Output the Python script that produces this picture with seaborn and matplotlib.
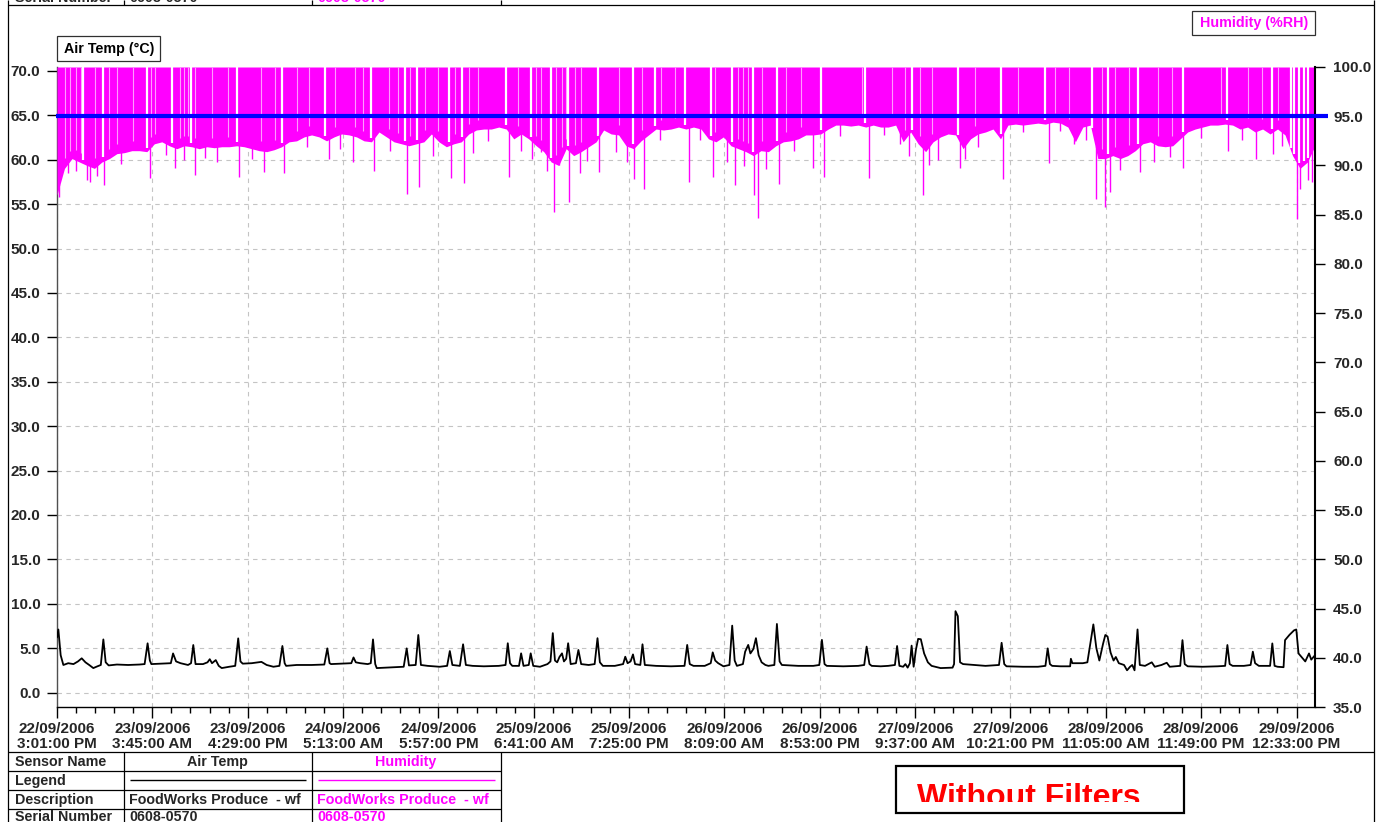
import datetime as dt
import numpy as np
import matplotlib
matplotlib.use("Agg")
import matplotlib.pyplot as plt
from matplotlib.patches import Rectangle
from matplotlib.ticker import MultipleLocator, FormatStrFormatter
import seaborn as sns

# ------------------------------------------------------------------ data
START = "22/09/2006 3:01:00 PM"
SPAN_HOURS = 168.0

tick_labels = [
    "22/09/2006\n3:01:00 PM", "23/09/2006\n3:45:00 AM", "23/09/2006\n4:29:00 PM",
    "24/09/2006\n5:13:00 AM", "24/09/2006\n5:57:00 PM", "25/09/2006\n6:41:00 AM",
    "25/09/2006\n7:25:00 PM", "26/09/2006\n8:09:00 AM", "26/09/2006\n8:53:00 PM",
    "27/09/2006\n9:37:00 AM", "27/09/2006\n10:21:00 PM", "28/09/2006\n11:05:00 AM",
    "28/09/2006\n11:49:00 PM", "29/09/2006\n12:33:00 PM",
]

# Air temperature (deg C), hours since start
temp_hours = [
    0.0, 0.18, 0.49, 0.85, 1.5, 2.2, 2.8, 3.3, 3.8, 4.3,
    4.85, 5.4, 5.85, 6.19, 6.5, 6.9, 8.0, 9.5, 11.0, 11.7,
    12.1, 12.4, 12.6, 14.0, 15.2, 15.5, 15.9, 16.5, 17.5, 17.9,
    18.2, 18.5, 19.5, 20.1, 20.4, 20.7, 21.2, 21.6, 22.0, 23.0,
    23.8, 24.2, 24.5, 24.8, 26.0, 27.3, 28.0, 28.9, 29.7, 30.1,
    30.4, 30.6, 32.0, 34.0, 35.7, 36.1, 36.4, 36.6, 38.0, 39.3,
    39.6, 39.9, 40.5, 41.5, 41.9, 42.2, 42.5, 42.7, 44.0, 45.5,
    46.3, 46.7, 47.0, 47.9, 48.25, 48.6, 49.5, 51.1, 52.1, 52.46,
    52.8, 53.8, 54.23, 54.6,
    55.5, 57.0, 59.0, 59.9, 60.2, 60.5, 60.8, 61.7, 61.98, 62.3,
    63.0, 63.26, 63.6, 64.5, 65.5, 65.9, 66.21, 66.5, 66.8, 67.1,
    67.44, 67.7, 68.0, 68.26, 68.6, 69.3, 69.63, 70.0, 71.0, 71.8,
    72.18, 72.5, 72.9, 74.5, 75.6, 75.89, 76.2, 76.6, 76.92, 77.2,
    77.9, 78.19, 78.5, 80.0, 82.0, 83.8, 84.16, 84.5, 85.0, 86.5,
    87.3, 87.57, 87.9, 88.3, 89.0, 89.8, 90.17, 90.5, 90.8, 91.6,
    91.9, 92.31, 92.6, 93.0, 93.34, 93.7, 94.1, 94.6, 95.0, 95.8,
    96.14, 96.5, 96.8, 99.0, 101.0, 101.8, 102.15, 102.5, 102.8, 105.0,
    107.0, 107.8, 108.12, 108.5, 108.8, 110.0, 111.0, 111.9, 112.19, 112.5,
    113.0, 113.3, 113.6, 113.9, 114.13, 114.4, 114.7, 115.0, 115.36, 115.8,
    116.3, 116.8, 118.0, 119.6, 119.8, 119.99, 120.3, 120.6, 121.0, 122.5,
    124.0, 125.8, 126.15, 126.5, 126.8,
    129.0, 131.0, 132.0, 132.3, 132.6, 132.9, 134.0, 135.3, 135.4, 135.6,
    137.0, 137.6, 138.0, 138.4, 138.8, 139.2, 139.7, 140.0, 140.3, 140.7,
    141.1, 141.4, 141.8, 142.5, 142.9, 143.3, 143.6, 143.9, 144.3, 144.6,
    145.3, 146.2, 146.6, 147.5, 148.2, 148.6, 150.0, 150.3, 150.6, 151.0,
    153.0, 155.0, 156.0, 156.3, 156.6, 157.0, 158.5, 159.4, 159.7, 160.0,
    160.5, 162.0, 162.3, 162.6, 163.0, 163.8, 164.0, 164.6, 165.2, 165.5,
    165.8, 166.3, 166.7, 167.2, 167.5, 168.0,
]
temp_values = [
    6.2, 7.1, 4.2, 3.1, 3.3, 3.2, 3.5, 3.85, 3.4, 3.1,
    2.75, 2.95, 3.1, 5.98, 3.4, 3.05, 3.15, 3.1, 3.15, 3.2,
    5.54, 3.6, 3.2, 3.25, 3.3, 4.4, 3.5, 3.3, 3.1, 3.3,
    5.35, 3.2, 3.2, 3.4, 3.75, 3.3, 3.65, 3.0, 2.75, 2.9,
    3.0, 6.1, 3.5, 3.25, 3.3, 3.45, 3.1, 2.9, 3.0, 5.24,
    3.3, 3.0, 3.1, 3.1, 3.15, 4.97, 3.3, 3.2, 3.25, 3.3,
    3.95, 3.4, 3.3, 3.2, 3.3, 5.98, 3.2, 2.75, 2.8, 2.85,
    2.9, 4.97, 3.05, 3.1, 6.48, 3.1, 3.0, 2.9, 3.0, 4.67,
    3.1, 3.0, 5.43, 3.1,
    3.0, 2.95, 3.0, 3.1, 5.55, 3.3, 3.0, 3.0, 4.41, 3.0,
    3.1, 4.41, 3.0, 2.9, 3.2, 3.5, 6.69, 3.6, 3.4, 4.0,
    4.41, 3.5, 3.8, 5.55, 3.2, 3.3, 4.79, 3.2, 3.1, 3.2,
    6.12, 3.4, 3.0, 3.0, 3.2, 4.03, 3.3, 3.5, 4.29, 3.2,
    3.1, 5.43, 3.1, 3.0, 2.95, 3.0, 5.36, 3.2, 3.0, 3.0,
    3.3, 4.52, 3.6, 3.3, 2.95, 3.1, 7.53, 3.6, 3.0, 3.2,
    4.6, 5.36, 4.4, 4.9, 6.12, 4.2, 3.4, 3.1, 3.0, 3.1,
    7.72, 3.5, 3.1, 3.0, 3.0, 3.1, 5.93, 3.2, 3.0, 2.95,
    3.0, 3.1, 5.17, 3.2, 3.0, 2.95, 3.0, 3.1, 5.24, 3.0,
    2.9, 3.2, 2.8, 3.3, 5.28, 2.9, 4.8, 6.04, 6.0, 4.4,
    3.4, 3.0, 2.75, 2.8, 3.2, 9.16, 8.6, 3.4, 3.2, 3.1,
    3.0, 3.1, 5.6, 3.2, 2.95,
    2.9, 2.9, 3.0, 4.97, 3.2, 3.0, 2.95, 2.95, 3.8, 3.3,
    3.3, 3.4, 5.5, 7.67, 5.0, 3.6, 5.5, 6.48, 6.3, 4.5,
    3.6, 4.0, 3.3, 3.1, 2.5, 2.9, 3.1, 2.5, 7.1, 3.1,
    3.0, 3.4, 2.9, 3.1, 3.35, 2.9, 3.0, 5.9, 3.2, 2.95,
    2.9, 2.95, 3.0, 5.35, 3.2, 3.0, 3.0, 3.1, 4.6, 3.3,
    3.0, 3.0, 5.53, 3.0, 2.9, 2.85, 5.9, 6.5, 7.0, 7.1,
    4.4, 3.9, 3.5, 4.4, 3.7, 4.2,
]

# Humidity (%RH): hourly lower edge of the saturated band
rh_floor = [
    87.0, 89.7, 90.7, 90.35, 90.0, 89.7, 90.35, 90.7, 91.2, 91.3, 91.5, 91.5,
    91.4, 92.2, 92.4, 92.0, 91.7, 92.0, 91.9, 91.7, 91.9, 91.8, 91.9, 91.9,
    92.0, 91.9, 91.7, 91.5, 91.4, 91.6, 91.9, 92.4, 92.5, 92.9, 93.1, 92.9,
    92.5, 92.9, 93.2, 93.1, 92.9, 92.5, 92.4, 93.4, 92.9, 92.4, 92.2, 92.0,
    92.2, 92.4, 93.2, 92.4, 91.9, 92.2, 92.4, 93.2, 93.6, 93.7, 93.7, 93.9,
    93.7, 92.7, 93.2, 92.7, 92.0, 91.4, 90.35, 90.0, 91.7, 91.0, 91.4, 91.9,
    92.4, 93.6, 93.2, 93.1, 92.0, 91.7, 92.5, 93.1, 93.7, 93.6, 93.7, 93.9,
    93.7, 93.9, 93.7, 92.7, 92.4, 92.9, 92.0, 91.7, 91.4, 91.0, 91.5, 91.4,
    92.0, 92.4, 92.5, 92.7, 93.1, 93.1, 93.2, 93.7, 94.1, 94.1, 94.0, 94.1,
    93.9, 94.1, 93.9, 93.9, 94.1, 92.4, 93.4, 92.2, 91.4, 92.4, 92.9, 93.2,
    93.1, 91.7, 92.7, 93.2, 93.4, 93.7, 92.7, 94.1, 94.2, 94.1, 94.2, 94.3,
    94.2, 94.4, 94.3, 93.9, 92.4, 93.9, 94.1, 90.7, 90.7, 91.0, 90.7, 91.0,
    91.5, 92.2, 92.4, 92.0, 91.9, 92.0, 92.7, 93.4, 93.7, 93.9, 94.1, 94.1,
    94.2, 94.1, 93.7, 93.9, 93.4, 93.7, 93.2, 93.7, 93.1, 91.0, 89.7, 90.35,
    92.0,
]

# Short humidity drops below the band
dip_hours = [
    0.3, 1.5, 2.6, 4.0, 4.4, 5.3, 6.3, 8.5, 12.4, 14.5,
    15.8, 17.0, 18.4, 19.8, 21.4, 24.3, 26.0, 27.6, 30.3, 33.4,
    36.3, 37.8, 39.5, 42.4, 44.5, 46.8, 48.4, 50.2, 52.6, 54.4,
    55.5, 57.5, 60.3, 62.0, 63.5, 64.7, 65.5, 66.4, 67.1, 68.4,
    69.9, 70.8, 72.4, 74.6, 76.1, 77.0, 78.4, 80.5, 84.4, 85.9,
    87.6, 89.5, 90.5, 91.8, 93.1, 93.6, 94.7, 96.4, 98.4, 101.0,
    102.4, 104.6, 108.5, 110.5, 112.6, 113.8, 115.6, 116.4, 117.6, 120.6,
    121.3, 123.0, 126.4, 129.0, 132.5, 134.0, 135.8, 137.4, 138.7, 140.0,
    140.6, 142.0, 144.6, 146.5, 148.7, 150.4, 152.8, 156.4, 158.2, 160.1,
    162.4, 163.6, 165.6, 166.0, 167.0, 167.6,
]
dip_values = [
    86.8, 89.2, 89.4, 88.5, 88.3, 88.9, 88.0, 90.1, 88.7, 91.1,
    89.7, 90.6, 89.0, 90.8, 90.35, 88.8, 90.7, 89.3, 89.2, 91.9,
    90.7, 91.7, 90.35, 89.4, 91.5, 87.1, 87.8, 91.0, 88.7, 88.2,
    91.3, 92.5, 88.8, 91.5, 90.7, 91.4, 89.4, 85.3, 90.0, 86.3,
    89.2, 90.5, 89.3, 91.4, 90.35, 88.6, 87.6, 92.6, 88.3, 92.6,
    88.8, 90.35, 88.0, 89.9, 87.0, 84.7, 89.6, 88.1, 91.5, 89.7,
    88.8, 93.0, 88.7, 93.1, 92.2, 91.0, 87.0, 90.0, 90.6, 89.7,
    90.7, 91.9, 88.6, 93.4, 90.2, 93.5, 92.2, 92.6, 86.6, 85.8,
    87.3, 89.5, 89.3, 90.4, 90.9, 89.7, 92.8, 91.5, 92.6, 90.7,
    91.2, 92.0, 84.6, 87.6, 88.5, 88.3,
]

# Times when humidity fell off saturation (defrost cycles)
unsaturated_hours = [
    3.5, 6.2, 12.0, 15.4, 17.9, 24.0, 30.0, 35.8, 41.9, 46.5,
    48.1, 52.4, 54.1, 60.0, 63.3, 66.0, 68.2, 72.2, 76.9, 79.8,
    83.9, 87.3, 90.2, 93.0, 96.2, 102.0, 107.9, 114.2, 120.3, 126.1,
    131.9, 138.2, 140.3, 144.4, 150.4, 156.3, 162.2, 164.8, 165.2, 165.9,
    166.5, 167.0,
]
# Single readings just under saturation
brief_unsaturated_hours = [
    1.07, 1.74, 2.5, 3.2, 5.1, 6.9, 8.0, 10.2, 12.6, 13.1,
    16.4, 16.9, 17.5, 18.4, 20.7, 22.9, 27.3, 29.1, 32.0, 33.6,
    37.1, 39.8, 40.9, 44.3, 45.6, 47.1, 49.2, 50.9, 53.2, 55.0,
    56.2, 61.6, 64.0, 64.7, 66.7, 67.5, 68.0, 69.2, 70.0, 75.0,
    78.1, 80.7, 82.5, 87.9, 91.0, 91.6, 92.3, 94.1, 97.4, 99.4,
    107.5, 111.5, 113.2, 115.2, 116.8, 122.6, 128.4, 133.3, 135.1, 139.5,
    141.3, 143.1, 147.1, 148.9, 155.5, 159.1, 160.9, 163.1,
]

RH_ALARM = 95.0
TEMP_LIM = (-1.633, 70.45)
RH_LIM = (35.0, 100.0)

# ------------------------------------------------------------------ style
MAGENTA = "#FF00FF"
LIGHT_MAGENTA = "#FF9CFF"
BLUE = "#0000FF"
GRID = "#c4c4c4"
FS = 11
FS_TABLE = 10.3

sns.set_style("white")
plt.rcParams["font.family"] = ["Liberation Sans", "DejaVu Sans"]
plt.rcParams["font.weight"] = "bold"

W, H, DPI = 1382, 822, 100
fig = plt.figure(figsize=(W / DPI, H / DPI), dpi=DPI, facecolor="white")

PL, PR, PT, PB = 57, 1315, 67, 707
ax = fig.add_axes([PL / W, 1 - PB / H, (PR - PL) / W, (PB - PT) / H])
ax2 = ax.twinx()

# ------------------------------------------------------------------ series
sns.lineplot(x=temp_hours, y=temp_values, ax=ax, color="black",
             linewidth=1.3, estimator=None, sort=False, legend=False, zorder=3)

rh_hours = np.arange(len(rh_floor))
ax2.fill_between(rh_hours, rh_floor, RH_LIM[1], color=MAGENTA, linewidth=0, zorder=2)
brief_floor = np.interp(brief_unsaturated_hours, rh_hours, rh_floor)
ax2.vlines(brief_unsaturated_hours, brief_floor + 1.0, RH_LIM[1], color=LIGHT_MAGENTA,
           linewidth=0.8, zorder=3)
gap_floor = np.interp(unsaturated_hours, rh_hours, rh_floor)
ax2.vlines(unsaturated_hours, gap_floor + 0.4, RH_LIM[1], color="white",
           linewidth=1.6, zorder=3)
dip_top = np.interp(dip_hours, rh_hours, rh_floor) + 0.3
ax2.vlines(dip_hours, dip_values, dip_top, color=MAGENTA, linewidth=1.0, zorder=4)
ax2.hlines(RH_ALARM, -0.15, SPAN_HOURS + 1.7, color=BLUE, linewidth=3.0,
           zorder=6, clip_on=False)

# ------------------------------------------------------------------ axes
t0 = dt.datetime.strptime(START, "%d/%m/%Y %I:%M:%S %p")
tick_hours = [
    (dt.datetime.strptime(s.replace("\n", " "), "%d/%m/%Y %I:%M:%S %p") - t0).total_seconds() / 3600
    for s in tick_labels
]
ax.set_xlim(0, SPAN_HOURS)
ax.set_ylim(*TEMP_LIM)
ax2.set_ylim(*RH_LIM)
ax.set_xlabel("")
ax.set_ylabel("")

ax.set_xticks(tick_hours)
ax.set_xticklabels(tick_labels)
ax.xaxis.set_minor_locator(MultipleLocator((tick_hours[1] - tick_hours[0]) / 5))
ax.set_yticks(np.arange(0, 71, 5))
ax.yaxis.set_major_formatter(FormatStrFormatter("%.1f"))
ax2.set_yticks(np.arange(35, 101, 5))
ax2.yaxis.set_major_formatter(FormatStrFormatter("%.1f"))

ax.tick_params(axis="x", which="major", bottom=True, length=8, width=1,
               color="black", pad=3, labelsize=FS)
ax.tick_params(axis="x", which="minor", bottom=True, length=4, width=1, color="black")
ax.tick_params(axis="y", which="major", left=True, length=7, width=1,
               color="black", pad=5, labelsize=FS)
ax2.tick_params(axis="y", which="major", right=True, length=7, width=1,
                color="black", pad=6, labelsize=FS)
for lbl in ax.get_xticklabels():
    lbl.set_linespacing(1.1)

ax.grid(True, which="major", color=GRID, linestyle=(0, (4, 4)), linewidth=0.8)
ax2.grid(False)
ax.set_axisbelow(True)

for a in (ax, ax2):
    a.spines["top"].set_visible(False)
ax.spines["right"].set_visible(False)
ax2.spines["left"].set_visible(False)
ax2.spines["bottom"].set_visible(False)
ax.spines["left"].set_color("#505050")
ax.spines["left"].set_linewidth(1.0)
ax.spines["bottom"].set_color("black")
ax.spines["bottom"].set_linewidth(1.0)
ax2.spines["right"].set_color("black")
ax2.spines["right"].set_linewidth(1.5)

# ------------------------------------------------------------------ page furniture (pixel coordinates)
ov = fig.add_axes([0, 0, 1, 1])
ov.set_xlim(0, W)
ov.set_ylim(H, 0)
ov.axis("off")
ov.patch.set_alpha(0)


def seg(x0, y0, x1, y1, color="black", lw=0.9):
    ov.plot([x0, x1], [y0, y1], color=color, linewidth=lw, solid_capstyle="butt")


# outer frame
seg(8.5, 0, 8.5, H)
seg(1374.5, 0, 1374.5, H)
seg(8.5, 5, 1374.5, 5)
seg(8.5, 752, 1374.5, 752)

# tail of the table above
for x in (124.5, 312.5, 501.5):
    seg(x, 0, x, 5)
ov.text(15, 2.5, "Serial Number", fontsize=FS_TABLE, va="baseline", ha="left")
ov.text(129, 2.5, "0608-0570", fontsize=FS_TABLE, va="baseline", ha="left")
ov.text(317, 2.5, "0608-0570", fontsize=FS_TABLE, va="baseline", ha="left", color=MAGENTA)

# series name boxes
ov.add_patch(Rectangle((57.5, 36.5), 103, 24.5, fill=False, edgecolor="#303030", linewidth=0.9))
ov.text(109, 48.5, "Air Temp (°C)", fontsize=FS_TABLE, ha="center", va="center", color="black")
ov.add_patch(Rectangle((1192.5, 11.5), 123, 23.5, fill=False, edgecolor="#303030", linewidth=0.9))
ov.text(1254, 23, "Humidity (%RH)", fontsize=FS_TABLE, ha="center", va="center", color=MAGENTA)

# sensor table
rows_y = [752, 771, 790, 808.5]
for y in rows_y[1:]:
    seg(8.5, y, 501.5, y)
for x in (124.5, 312.5, 501.5):
    seg(x, 752, x, H)
row_c = [761.5, 780.5, 799.5, 817]
ov.text(15, row_c[0], "Sensor Name", fontsize=FS_TABLE, va="center")
ov.text(15, row_c[1], "Legend", fontsize=FS_TABLE, va="center")
ov.text(15, row_c[2], "Description", fontsize=FS_TABLE, va="center")
ov.text(15, row_c[3], "Serial Number", fontsize=FS_TABLE, va="center")
ov.text(217, row_c[0], "Air Temp", fontsize=FS_TABLE, va="center", ha="center")
ov.text(406, row_c[0], "Humidity", fontsize=FS_TABLE, va="center", ha="center", color=MAGENTA)
seg(130, 780, 306, 780, color="black", lw=1.0)
seg(318, 780, 495, 780, color=MAGENTA, lw=1.0)
ov.text(129, row_c[2], "FoodWorks Produce  - wf", fontsize=FS_TABLE, va="center")
ov.text(317, row_c[2], "FoodWorks Produce  - wf", fontsize=FS_TABLE, va="center", color=MAGENTA)
ov.text(129, row_c[3], "0608-0570", fontsize=FS_TABLE, va="center")
ov.text(317, row_c[3], "0608-0570", fontsize=FS_TABLE, va="center", color=MAGENTA)

# note box
ov.text(917, 806, "Without Filters", fontsize=23, color="#FF0000", va="baseline",
        ha="left", fontweight="bold", zorder=5)
ov.add_patch(Rectangle((898, 802), 285.5, 10, facecolor="white", edgecolor="none", zorder=6))
ov.add_patch(Rectangle((896.5, 765.5), 288, 47.5, fill=False, edgecolor="black",
                       linewidth=1.6, zorder=7))

fig.savefig("out.png", dpi=DPI, facecolor="white")
